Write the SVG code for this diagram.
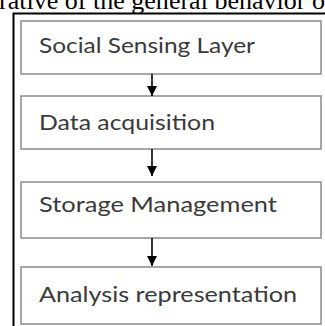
<svg xmlns="http://www.w3.org/2000/svg" width="325" height="326" viewBox="0 0 325 326">
<defs>
<style>
.box{fill:#fff;stroke:#8a8a8a;stroke-width:1.5}
.lbl{font-family:Lato,"Open Sans","Liberation Sans",sans-serif;font-size:21px;fill:#3a3a3a}
.con{stroke:#000;stroke-width:1.6;fill:none}
</style>
<marker id="ah" viewBox="0 0 10 10" refX="10" refY="5" markerWidth="10" markerHeight="10" markerUnits="userSpaceOnUse" orient="auto">
<path d="M0,0 L10,5 L0,10 z" fill="#000"/>
</marker>
</defs>
<rect width="325" height="326" fill="#fff"/>
<text x="-1" y="9" font-family="'Liberation Serif',serif" font-size="26" fill="#000" textLength="326" lengthAdjust="spacing">rative of the general behavior o</text>
<rect x="13.5" y="13.5" width="330" height="330" fill="none" stroke="#000" stroke-width="2"/>
<g id="node1"><rect class="box" x="21" y="21" width="300" height="53"/><text class="lbl" x="39" y="53" textLength="216" lengthAdjust="spacingAndGlyphs">Social Sensing Layer</text></g>
<g id="node2"><rect class="box" x="21" y="96" width="300" height="53"/><text class="lbl" x="39" y="130" textLength="176" lengthAdjust="spacingAndGlyphs">Data acquisition</text></g>
<g id="node3"><rect class="box" x="21" y="182" width="300" height="56"/><text class="lbl" x="39" y="212" textLength="238" lengthAdjust="spacingAndGlyphs">Storage Management</text></g>
<g id="node4"><rect class="box" x="21" y="267" width="300" height="57"/><text class="lbl" x="39" y="302" textLength="258" lengthAdjust="spacingAndGlyphs">Analysis representation</text></g>
<g id="connectors">
<line class="con" x1="152" y1="74" x2="152" y2="96" marker-end="url(#ah)"/>
<line class="con" x1="152" y1="149" x2="152" y2="176" marker-end="url(#ah)"/>
<line class="con" x1="152" y1="238" x2="152" y2="266" marker-end="url(#ah)"/>
</g>
</svg>
